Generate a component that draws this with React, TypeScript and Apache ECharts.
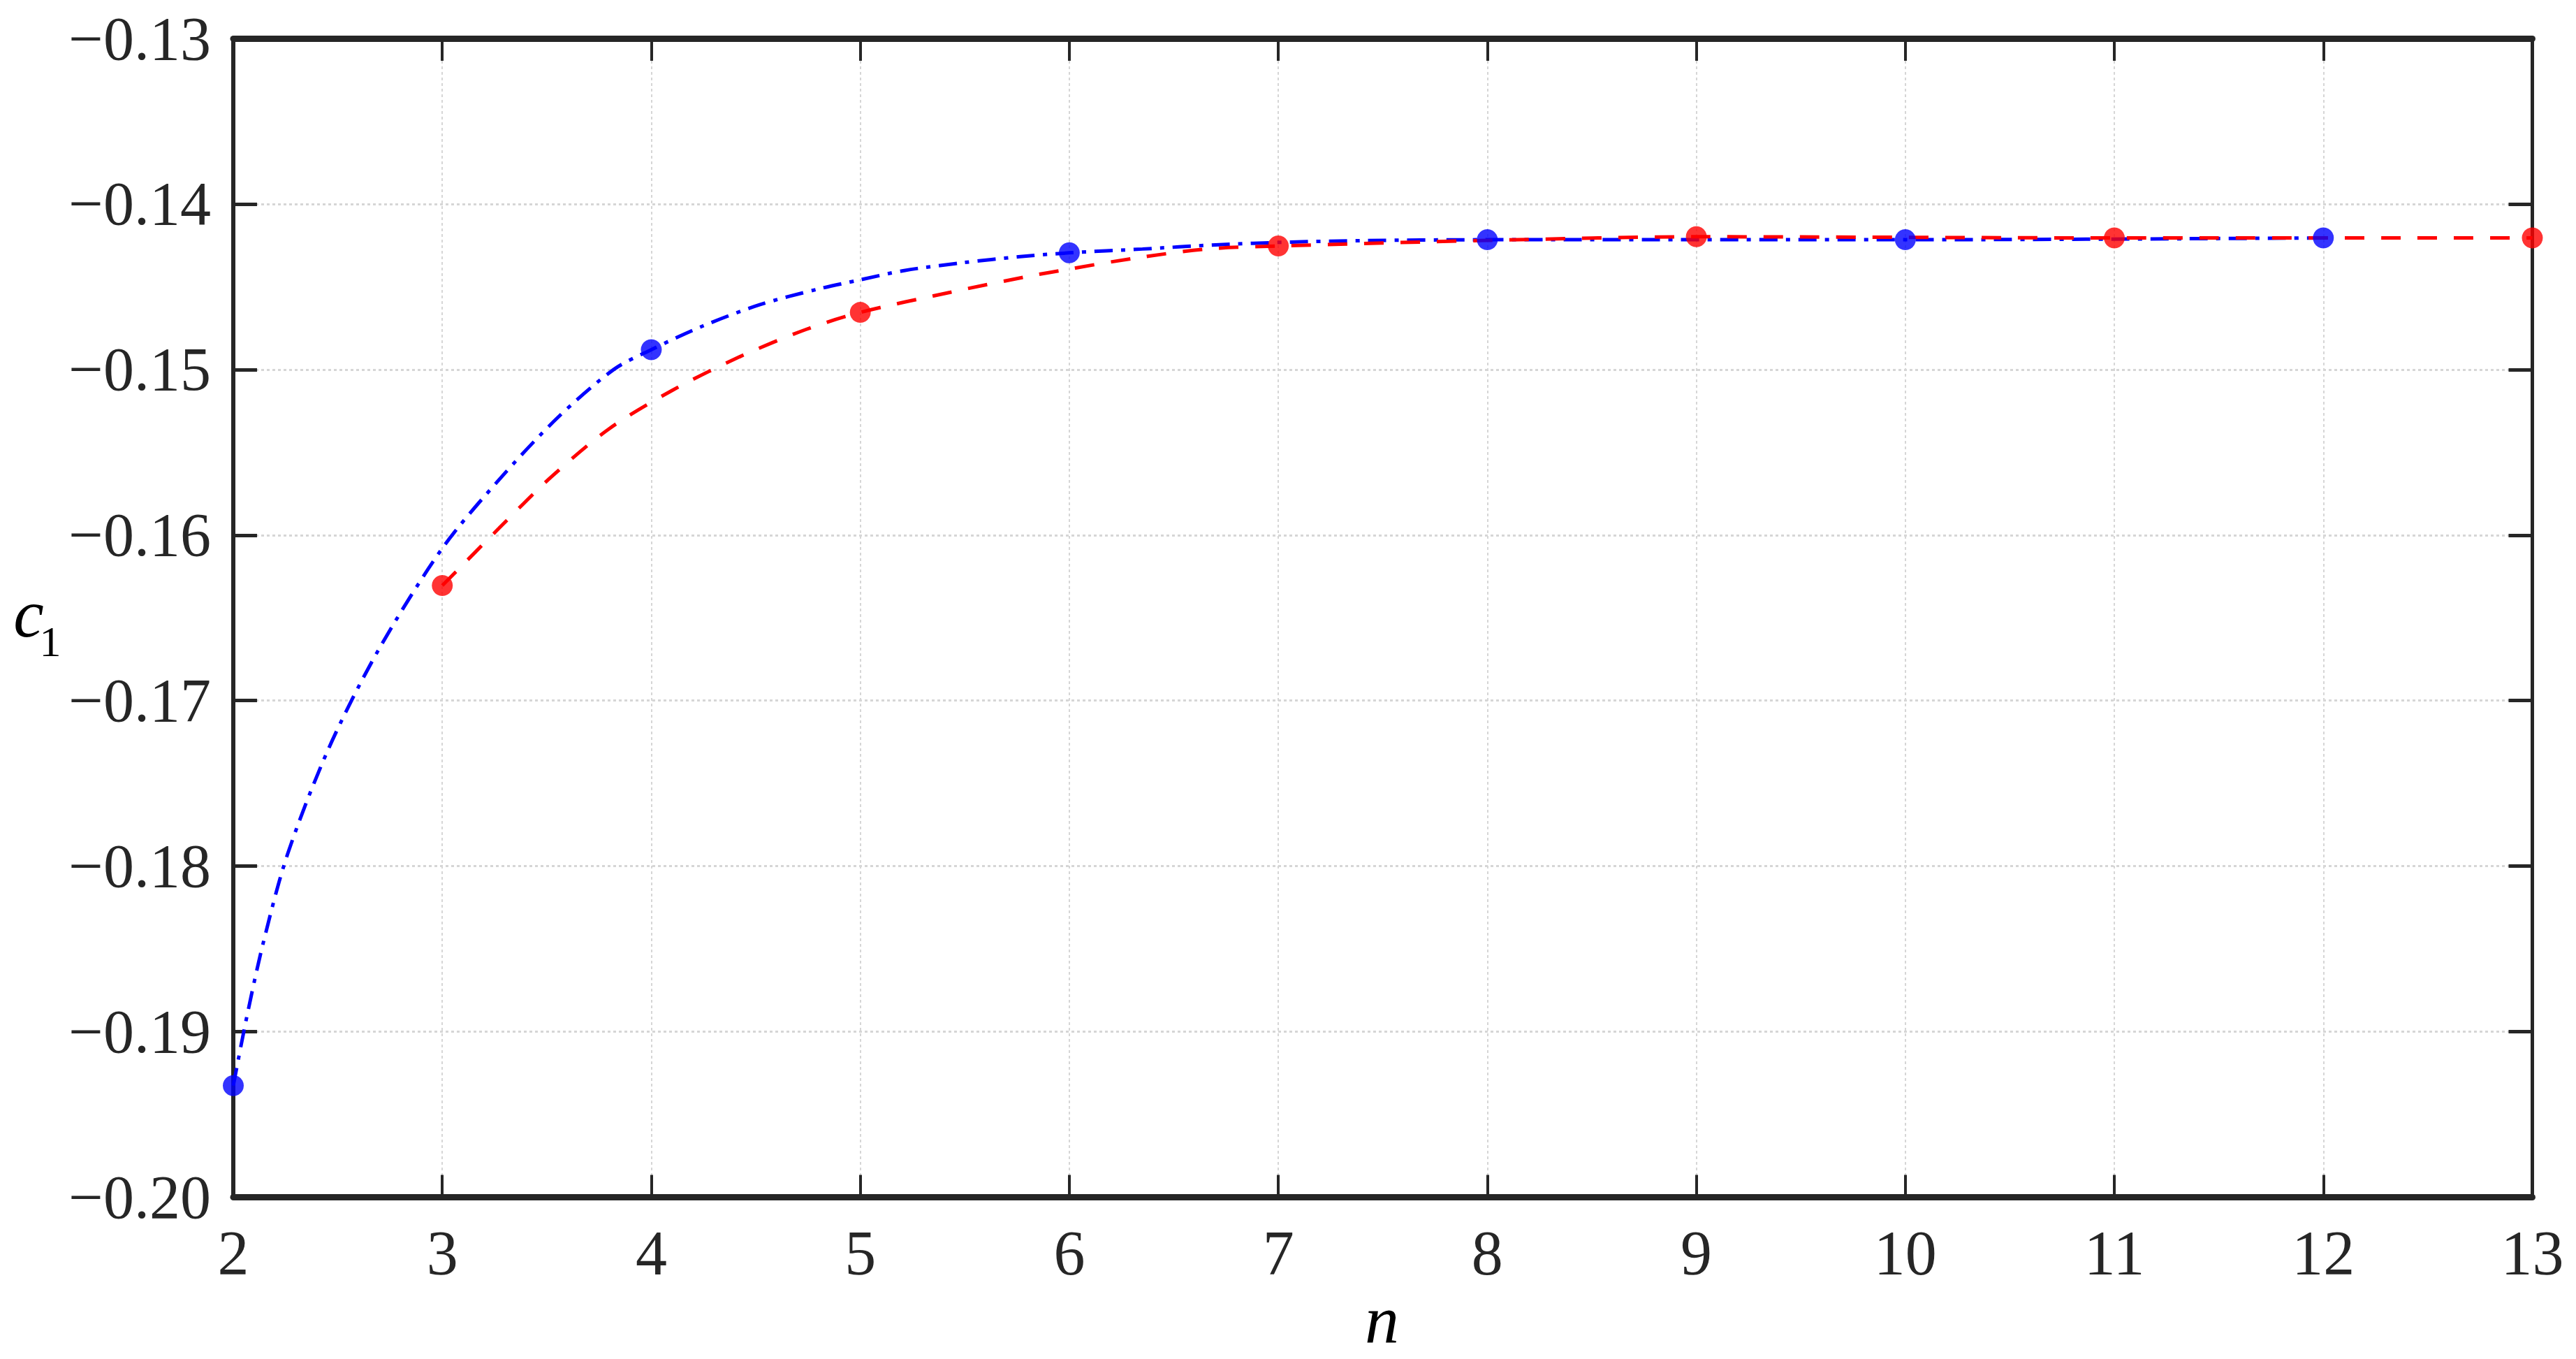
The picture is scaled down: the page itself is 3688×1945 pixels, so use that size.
import React, { useEffect, useRef } from "react";
import * as echarts from "echarts";

// Data points (markers)
const nBlue = [2, 4, 6, 8, 10, 12];
const c1Blue = [-0.19326, -0.1488, -0.14295, -0.14216, -0.14216, -0.14205];
const nRed = [3, 5, 7, 9, 11, 13];
const c1Red = [-0.16305, -0.14655, -0.14254, -0.14198, -0.14205, -0.14205];

// Fitted curves
const blueCurveN = [2, 2.063, 2.142, 2.259, 2.456, 2.692, 3.0, 3.27, 3.55, 3.82, 4, 4.241, 4.518, 4.795, 5.0, 5.21, 5.488, 5.765, 6, 6.35, 6.7, 7.06, 7.42, 8, 10, 12];
const blueCurveC = [-0.19326, -0.1892, -0.1847, -0.1793, -0.1729, -0.167, -0.1608, -0.15668, -0.15293, -0.15, -0.1488, -0.1474, -0.14609, -0.14515, -0.14458, -0.14402, -0.14355, -0.14318, -0.14295, -0.14272, -0.14247, -0.1423, -0.14221, -0.14216, -0.14216, -0.14205];
const redCurveN = [3, 3.272, 3.521, 3.798, 4.103, 4.421, 4.74, 5, 5.432, 5.792, 6, 6.311, 6.657, 7, 8, 9, 11, 13];
const redCurveC = [-0.16305, -0.15958, -0.15649, -0.15358, -0.15124, -0.14924, -0.14758, -0.14655, -0.14533, -0.1444, -0.14393, -0.14328, -0.14272, -0.14254, -0.1422, -0.14198, -0.14205, -0.14205];

// Axis ranges / ticks
const xMin = 2;
const xMax = 13;
const xStep = 1;
const yMin = -0.2;
const yMax = -0.13;
const yStep = 0.01;

const AX = "#262626";
const FONT = "Liberation Serif";

function pairs(xs: number[], ys: number[]) {
  return xs.map((x, i) => [x, ys[i]]);
}

function buildOption(): any {
  const tickCommon = { inside: true, length: 32 };
  return {
    animation: false,
    backgroundColor: "#ffffff",
    grid: { left: 334, right: 62.5, top: 55, bottom: 231.5, containLabel: false },
    xAxis: [
      {
        type: "value",
        position: "bottom",
        min: xMin,
        max: xMax,
        interval: xStep,
        axisLine: { show: true, onZero: false, lineStyle: { color: AX, width: 9 } },
        axisTick: { show: true, ...tickCommon, lineStyle: { color: AX, width: 4 } },
        axisLabel: {
          show: true,
          margin: 80,
          verticalAlign: "middle",
          fontSize: 90,
          lineHeight: 80,
          fontFamily: FONT,
          color: AX,
        },
        splitLine: { show: true, lineStyle: { color: "#d6d6d6", width: 2, type: [4, 4] } },
      },
      {
        type: "value",
        position: "top",
        min: xMin,
        max: xMax,
        interval: xStep,
        axisLine: { show: true, onZero: false, lineStyle: { color: AX, width: 9 } },
        axisTick: { show: true, ...tickCommon, lineStyle: { color: AX, width: 4 } },
        axisLabel: { show: false },
        splitLine: { show: false },
      },
    ],
    yAxis: [
      {
        type: "value",
        position: "left",
        min: yMin,
        max: yMax,
        interval: yStep,
        axisLine: { show: true, onZero: false, lineStyle: { color: AX, width: 6 } },
        axisTick: { show: true, inside: true, length: 34, lineStyle: { color: AX, width: 5 } },
        axisLabel: {
          show: true,
          margin: 32,
          fontSize: 88,
          lineHeight: 72,
          fontFamily: FONT,
          color: AX,
          formatter: (v: number) => (v < 0 ? "\u2212" : "") + Math.abs(v).toFixed(2),
        },
        splitLine: { show: true, lineStyle: { color: "#d6d6d6", width: 3, type: [4, 4] } },
      },
      {
        type: "value",
        position: "right",
        min: yMin,
        max: yMax,
        interval: yStep,
        axisLine: { show: true, onZero: false, lineStyle: { color: AX, width: 5 } },
        axisTick: { show: true, inside: true, length: 34, lineStyle: { color: AX, width: 5 } },
        axisLabel: { show: false },
        splitLine: { show: false },
      },
    ],
    series: [
      {
        type: "line",
        xAxisIndex: 0,
        yAxisIndex: 0,
        data: pairs(blueCurveN, blueCurveC),
        smooth: 0.3,
        showSymbol: false,
        symbol: "none",
        lineStyle: { color: "#0000ff", width: 5, type: [26, 12, 6, 12] },
        z: 3,
      },
      {
        type: "line",
        xAxisIndex: 0,
        yAxisIndex: 0,
        data: pairs(redCurveN, redCurveC),
        smooth: 0.3,
        showSymbol: false,
        symbol: "none",
        lineStyle: { color: "#ff0000", width: 5, type: [28, 24] },
        z: 4,
      },
      {
        type: "scatter",
        xAxisIndex: 0,
        yAxisIndex: 0,
        data: pairs(nBlue, c1Blue),
        symbol: "circle",
        symbolSize: 30,
        clip: false,
        itemStyle: { color: "#0000ff" },
        z: 5,
      },
      {
        type: "scatter",
        xAxisIndex: 0,
        yAxisIndex: 0,
        data: pairs(nRed, c1Red),
        symbol: "circle",
        symbolSize: 30,
        clip: false,
        itemStyle: { color: "#ff0000" },
        z: 6,
      },
    ],
    graphic: [
      {
        type: "text",
        left: 1979 - 25,
        top: 1889 - 50,
        style: {
          text: "n",
          fontSize: 98,
          fontStyle: "italic",
          fontFamily: FONT,
          fill: "#000",
        },
      },
      {
        type: "text",
        x: 41,
        y: 878,
        style: {
          text: "c",
          fontSize: 98,
          fontStyle: "italic",
          fontFamily: FONT,
          fill: "#000",
          align: "center",
          verticalAlign: "middle",
        },
      },
      {
        type: "text",
        x: 72,
        y: 918,
        style: {
          text: "1",
          fontSize: 62,
          fontFamily: FONT,
          fill: "#000",
          align: "center",
          verticalAlign: "middle",
        },
      },
    ],
  };
}

export default function App() {
  const ref = useRef<HTMLDivElement>(null);
  useEffect(() => {
    if (!ref.current) return;
    const chart = echarts.init(ref.current, null, { renderer: "svg" });
    chart.setOption(buildOption());
    return () => {
      chart.dispose();
    };
  }, []);
  return (
    <div
      ref={ref}
      style={{ position: "fixed", left: 0, top: 0, width: 3688, height: 1945, background: "#ffffff" }}
    />
  );
}
